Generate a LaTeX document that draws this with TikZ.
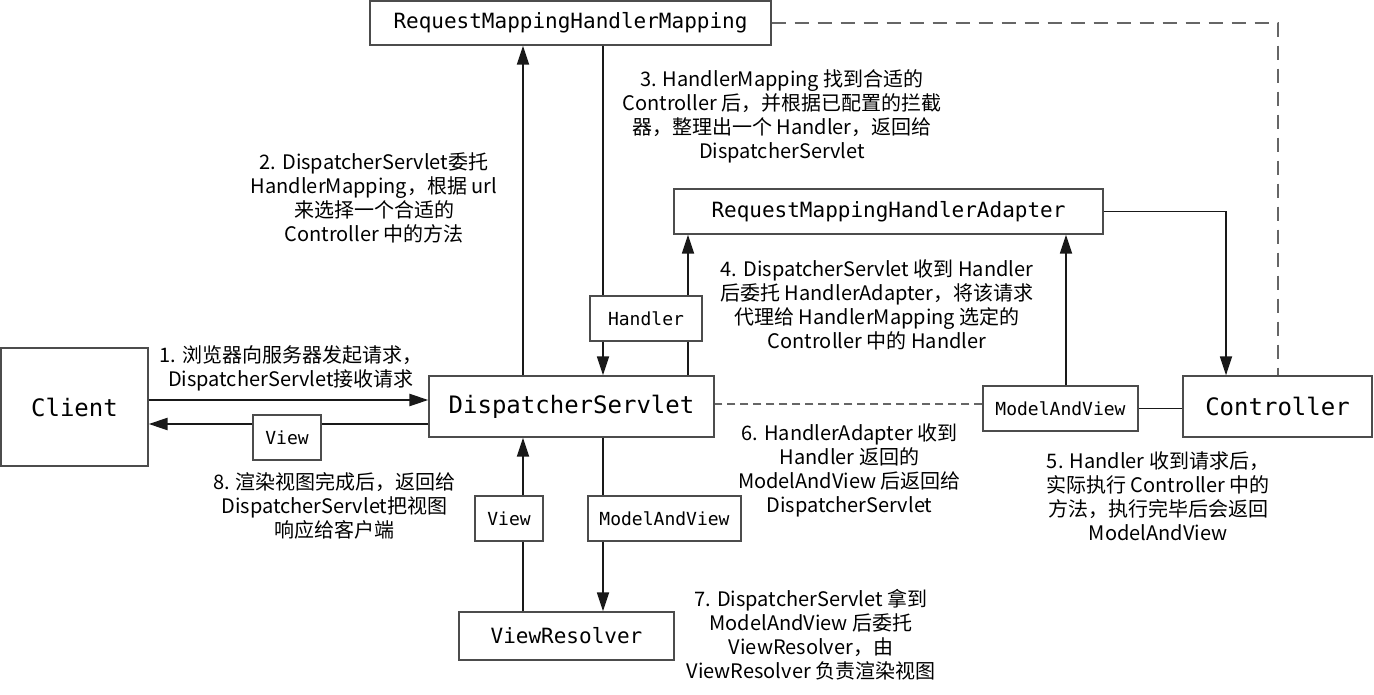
\documentclass[tikz,border=0pt]{standalone}
\usepackage{fontspec}
\setmainfont{Noto Sans CJK SC}
\setmonofont{DejaVu Sans Mono}
\usetikzlibrary{arrows.meta}
\begin{document}
\begin{tikzpicture}[x=1pt,y=-1pt,
  box/.style={draw=black!70, line width=1.3pt, fill=white, inner sep=0pt, font=\ttfamily},
  big/.style={font=\ttfamily\fontsize{24}{28}\selectfont},
  mid/.style={font=\ttfamily\fontsize{21}{25}\selectfont},
  small/.style={font=\ttfamily\fontsize{18}{22}\selectfont},
  lbl/.style={align=center, inner sep=0pt, font=\fontsize{20}{24}\selectfont},
  conn/.style={line width=1.8pt, black!90},
  arr/.style={conn, -{Triangle[length=19pt, width=12pt]}},
  dline/.style={line width=1.5pt, black!60, dash pattern=on 14pt off 9pt},
  dline2/.style={line width=1.3pt, black!60, dash pattern=on 8pt off 5pt}]
\useasboundingbox (0,0) rectangle (1374,694);

% boxes
\node[box, mid, minimum width=401pt, minimum height=44pt] (RMHM) at (570.5,23) {RequestMappingHandlerMapping};
\node[box, mid, minimum width=429pt, minimum height=45pt] (RMHA) at (888.5,211.5) {RequestMappingHandlerAdapter};
\node[box, big, minimum width=147pt, minimum height=118pt] (Client) at (74.5,407) {Client};
\node[box, big, minimum width=285pt, minimum height=61pt] (DS) at (571.5,406.5) {DispatcherServlet};
\node[box, big, minimum width=189pt, minimum height=61pt] (Ctrl) at (1277.5,406.5) {Controller};
\node[box, small, minimum width=155pt, minimum height=45pt] (MAV) at (1060.5,408.5) {ModelAndView};
\node[box, small, minimum width=112pt, minimum height=45pt] (Handler) at (646,318.5) {Handler};
\node[box, small, minimum width=68pt, minimum height=45pt] (ViewA) at (287,437.5) {View};
\node[box, small, minimum width=68pt, minimum height=45pt] (ViewB) at (509,518.5) {View};
\node[box, small, minimum width=153pt, minimum height=45pt] (MAVB) at (664.5,518.5) {ModelAndView};
\node[box, mid, minimum width=215pt, minimum height=48pt] (VR) at (566.5,636) {ViewResolver};

% helper coordinates
\coordinate (r400) at (0,400);
\coordinate (r424) at (0,424);
\coordinate (r404) at (0,404);
\coordinate (v523) at (523,0);
\coordinate (v603) at (603,0);
\coordinate (v688) at (688,0);
\coordinate (v1066) at (1066,0);
\coordinate (v1226) at (1226,0);
\coordinate (v1278) at (1278,0);

% connectors
\draw[arr, line width=2.5pt] (Client.east |- r400) -- (DS.west |- r400);
\draw[conn, line width=2.5pt] (DS.west |- r424) -- (ViewA.east |- r424);
\draw[arr, line width=2.5pt] (ViewA.west |- r424) -- (Client.east |- r424);

\draw[arr] (DS.north -| v523) -- (RMHM.south -| v523);
\draw[conn] (RMHM.south -| v603) -- (Handler.north -| v603);
\draw[arr] (Handler.south -| v603) -- (DS.north -| v603);
\draw[conn] (DS.north -| v688) -- (Handler.south -| v688);
\draw[arr] (Handler.north -| v688) -- (RMHA.south -| v688);

\draw[arr] (RMHA.east) -| (Ctrl.north -| v1226);
\draw[conn] (Ctrl.west |- MAV.east) -- (MAV.east);
\draw[arr] (MAV.north -| v1066) -- (RMHA.south -| v1066);
\draw[dline2] (MAV.west |- r404) -- (DS.east |- r404);
\draw[dline] (RMHM.east) -| (Ctrl.north -| v1278);

\draw[conn] (DS.south -| v603) -- (MAVB.north -| v603);
\draw[arr] (MAVB.south -| v603) -- (VR.north -| v603);
\draw[conn] (VR.north -| v523) -- (ViewB.south -| v523);
\draw[arr] (ViewB.north -| v523) -- (DS.south -| v523);

% labels
\node[lbl] (L1) at (291,368) {1. 浏览器向服务器发起请求，\\DispatcherServlet接收请求};
\node[lbl] (L2) at (374,197.5) {2. DispatcherServlet委托\\HandlerMapping，根据 url\\来选择一个合适的\\Controller 中的方法};
\node[lbl] (L3) at (782,116) {3. HandlerMapping 找到合适的\\Controller 后，并根据已配置的拦截\\器，整理出一个 Handler，返回给\\DispatcherServlet};
\node[lbl] (L4) at (877,305) {4. DispatcherServlet 收到 Handler\\后委托 HandlerAdapter，将该请求\\代理给 HandlerMapping 选定的\\Controller 中的 Handler};
\node[lbl] (L5) at (1158,496) {5. Handler 收到请求后，\\实际执行 Controller 中的\\方法，执行完毕后会返回\\ModelAndView};
\node[lbl] (L6) at (849.5,470.5) {6. HandlerAdapter 收到\\Handler 返回的\\ModelAndView 后返回给\\DispatcherServlet};
\node[lbl] (L7) at (811,635) {7. DispatcherServlet 拿到\\ModelAndView 后委托\\ViewResolver，由\\ViewResolver 负责渲染视图};
\node[lbl] (L8) at (334.5,506) {8. 渲染视图完成后，返回给\\DispatcherServlet把视图\\响应给客户端};
\end{tikzpicture}
\end{document}
